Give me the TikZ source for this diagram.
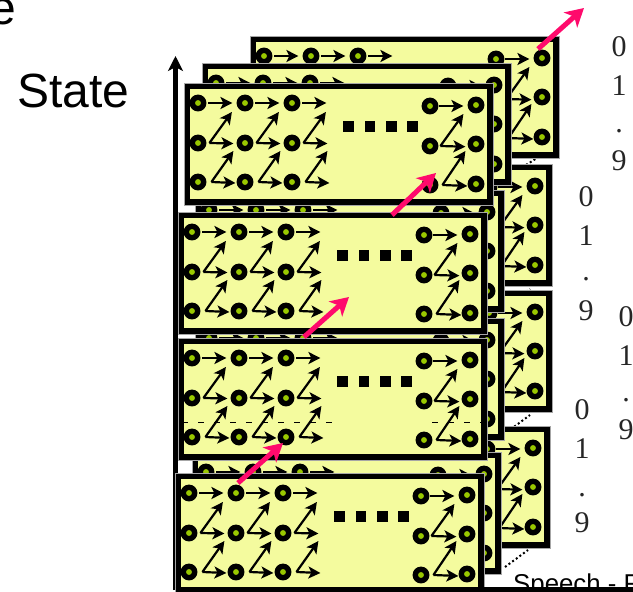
\documentclass[tikz,border=0pt]{standalone}
\usepackage{fontspec}
\setmainfont{Liberation Sans}
\newfontfamily\digitfont{Liberation Serif}
\usetikzlibrary{arrows.meta}
\definecolor{panelfill}{HTML}{F4FB9E}
\definecolor{dotgreen}{HTML}{99C800}
\definecolor{pinkarrow}{HTML}{FF0A6C}
\tikzset{
  x=1pt,y=-1pt,
  frame/.style={fill=black,draw=black!35,line width=.3pt},
  inner/.style={fill=panelfill,draw=none},
  net/.style={circle,draw=black,fill=dotgreen,line width=5.4pt,minimum size=11.4pt,inner sep=0pt,outer sep=2.7pt},
  arr/.style={draw=black,line width=2.2pt,-{Stealth[length=12pt,width=12pt,inset=3pt]}},
  sq/.style={fill=black,draw=none,minimum size=10.5pt,inner sep=0pt},
  pink/.style={draw=pinkarrow,line width=5pt,-{Stealth[length=18pt,width=20pt,inset=5pt]}},
  axisline/.style={draw=black,line width=5.2pt},
  digit/.style={font=\digitfont\fontsize{30}{30}\selectfont,text=black!85,inner sep=0pt,anchor=center},
  bigtext/.style={font=\fontsize{48}{48}\selectfont,text=black,inner sep=0pt},
  dots/.style={draw=black,line width=2pt,dash pattern=on 2pt off 2.5pt},
}
% #1 name prefix, #2 left, #3 top
\newcommand{\panelnet}[3]{%
  \begin{scope}[shift={(#2,#3)}]
    \path[frame] (0,0) rectangle (309,122);
    \path[inner] (6,6) rectangle (303,116);
    \foreach \c/\xx in {a/14,b/61,c/108}{
      \node[net] (#1\c1) at (\xx,20) {};
      \node[net] (#1\c2) at (\xx,60) {};
      \node[net] (#1\c3) at (\xx,99) {};
      \draw[arr] ([xshift=2pt]#1\c1.east) -- ++(24,0);
      \draw[arr] ([xshift=3pt]#1\c2.east) -- ++(24,0.5);
      \draw[arr] ([xshift=3pt]#1\c2.east) -- ++(22.5,-31);
      \draw[arr] ([xshift=5pt]#1\c3.east) -- ++(24,1);
      \draw[arr] ([xshift=5pt]#1\c3.east) -- ++(22,-31);
    }
    \node[net] (#1d1) at (246,23) {};
    \node[net] (#1d2) at (246,63) {};
    \node[net] (#1d3) at (246,102) {};
    \node[net] (#1e1) at (292,22) {};
    \node[net] (#1e2) at (292,61) {};
    \node[net] (#1e3) at (292,101) {};
    \draw[arr] ([xshift=1pt]#1d1.east) -- ++(24,0);
    \draw[arr] ([xshift=2pt]#1d2.east) -- ++(23,-32);
    \draw[arr] ([xshift=2pt]#1d2.east) -- ++(25,0.7);
    \draw[arr] ([xshift=4pt]#1d3.east) -- ++(23,-34);
    \draw[arr] ([xshift=4pt]#1d3.east) -- ++(25,1);
    \foreach \k/\xx in {1/164.5,2/186,3/207.5,4/228.5}{
      \node[sq] (#1s\k) at (\xx,43.5) {};
    }
  \end{scope}%
}
\begin{document}
\begin{tikzpicture}
\useasboundingbox (0,0) rectangle (633,592);
\clip (0,0) rectangle (633,592);
\fill[white] (0,0) rectangle (633,592);
% texts
\node[bigtext,anchor=base west] (topword) at (-11,24) {e};
\node[bigtext,anchor=base west] (statelabel) at (17,107) {State};
\node[anchor=base west,inner sep=0pt,font=\fontsize{25.8}{26}\selectfont] (speech) at (513,592) {Speech - F};
% digits
\node[digit] (a0) at (619,47) {0};
\node[digit] (a1) at (619,86) {1};
\node[digit] (ad) at (619,131) {.};
\node[digit] (a9) at (619,161) {9};
\node[digit] (b0) at (586,197) {0};
\node[digit] (b1) at (586,236) {1};
\node[digit] (bd) at (586,279) {.};
\node[digit] (b9) at (586,311) {9};
\node[digit] (c0) at (626,317) {0};
\node[digit] (c1) at (626,356) {1};
\node[digit] (cd) at (626,400) {.};
\node[digit] (c9) at (626,430) {9};
\node[digit] (d0) at (582,410) {0};
\node[digit] (d1) at (582,449) {1};
\node[digit] (dd) at (582,495) {.};
\node[digit] (d9) at (582,523) {9};
% axis
\coordinate (origin) at (175.5,590);
\coordinate (ytip) at (175.5,56);
\coordinate (xend) at (633,590);
\draw[axisline,-{Stealth[length=15pt,width=15pt,inset=4pt]}] (origin) -- (ytip);
% dotted guides
\coordinate (g1a) at (507,177); \coordinate (g1b) at (537,158);
\coordinate (g2a) at (508,305); \coordinate (g2b) at (530,289);
\coordinate (g3a) at (507,432); \coordinate (g3b) at (530,415);
\coordinate (g4a) at (505,567); \coordinate (g4b) at (528,550);
\draw[dots] (g1a) -- (g1b);
\draw[dots] (g2a) -- (g2b);
\draw[dots] (g3a) -- (g3b);
\draw[dots] (g4a) -- (g4b);
% panels, back to front
\panelnet{pD}{241}{426}
\panelnet{pC}{243}{290}
\panelnet{pB}{243}{164}
\panelnet{pA}{250}{36}
\panelnet{qD}{192}{452}
\panelnet{qC}{195}{318}
\panelnet{qB}{195}{190}
\panelnet{qA}{202}{63}
\panelnet{rD}{175}{473}
\panelnet{rC}{178}{338}
\panelnet{rB}{178}{212}
\panelnet{rA}{184}{83}
% base line of the axes
\draw[axisline] (origin) -- (xend);
% thin dashed artefact
\coordinate (t1) at (182,422); \coordinate (t2) at (332,422);
\coordinate (t3) at (432,422); \coordinate (t4) at (481,422);
\draw[black,line width=.7pt,dash pattern=on 6pt off 10pt] (t1) -- (t2);
\draw[black,line width=.7pt,dash pattern=on 6pt off 10pt] (t3) -- (t4);
% pink arrows
\coordinate (k1a) at (538,49); \coordinate (k1b) at (584,8);
\coordinate (k2a) at (392,215); \coordinate (k2b) at (436,173);
\coordinate (k3a) at (304,337); \coordinate (k3b) at (349,297);
\coordinate (k4a) at (238,483); \coordinate (k4b) at (283,443);
\draw[pink] (k1a) -- (k1b);
\draw[pink] (k2a) -- (k2b);
\draw[pink] (k3a) -- (k3b);
\draw[pink] (k4a) -- (k4b);
\end{tikzpicture}
\end{document}
